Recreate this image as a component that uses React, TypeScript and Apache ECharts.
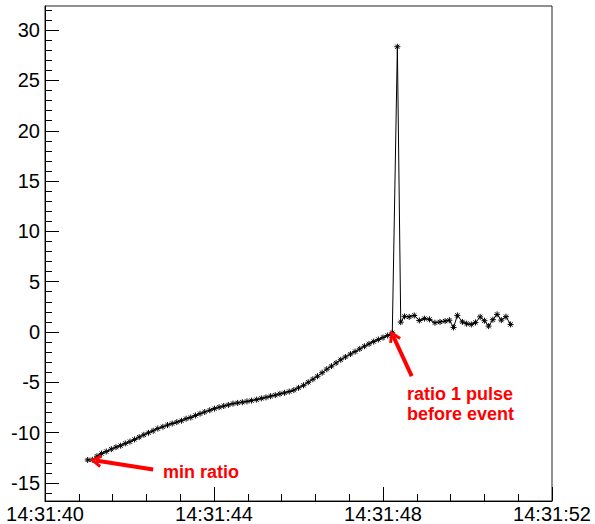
import React, { useEffect, useRef } from 'react';
import * as echarts from 'echarts';

// seconds after 14:31:40
const timeSec = [
  1.01, 1.12, 1.23, 1.34, 1.45, 1.57, 1.68, 1.79, 1.90, 2.01,
  2.12, 2.23, 2.34, 2.45, 2.56, 2.67, 2.79, 2.90, 3.01, 3.12,
  3.23, 3.34, 3.45, 3.56, 3.67, 3.78, 3.90, 4.01, 4.12, 4.23,
  4.34, 4.45, 4.56, 4.67, 4.78, 4.89, 5.01, 5.12, 5.23, 5.34,
  5.45, 5.56, 5.67, 5.78, 5.89, 6.00, 6.12, 6.23, 6.34, 6.45,
  6.56, 6.67, 6.78, 6.89, 7.00, 7.11, 7.23, 7.34, 7.45, 7.56,
  7.67, 7.78, 7.89, 8.00, 8.11, 8.22,
  8.34,
  8.42, 8.51, 8.62, 8.74, 8.86, 8.98, 9.10, 9.23, 9.35, 9.47,
  9.57, 9.67, 9.76, 9.88, 9.98, 10.09, 10.19, 10.30, 10.40, 10.50,
  10.60, 10.70, 10.80, 10.91, 11.02,
];

const ratio = [
  -12.72, -12.70, -12.35, -12.08, -11.88, -11.65, -11.45, -11.30, -11.08, -10.90,
  -10.68, -10.45, -10.22, -10.02, -9.82, -9.60, -9.42, -9.25, -9.10, -8.96,
  -8.82, -8.62, -8.50, -8.30, -8.12, -7.95, -7.78, -7.62, -7.48, -7.36,
  -7.25, -7.12, -7.05, -6.98, -6.90, -6.82, -6.72, -6.60, -6.50, -6.38,
  -6.28, -6.15, -6.05, -5.92, -5.78, -5.55, -5.30, -5.00, -4.70, -4.40,
  -4.05, -3.70, -3.40, -3.08, -2.76, -2.48, -2.20, -1.95, -1.68, -1.42,
  -1.18, -0.95, -0.75, -0.55, -0.35, -0.08,
  28.35,
  0.98, 1.55, 1.50, 1.64, 1.14, 1.33, 1.25, 0.92, 1.00, 1.08,
  1.17, 0.45, 1.65, 1.00, 0.82, 0.75, 0.95, 1.50, 1.12, 0.58,
  1.22, 1.75, 1.18, 1.52, 0.75,
];

const xTickValues = [0, 4, 8, 12];
const xTickLabels = ['14:31:40', '14:31:44', '14:31:48', '14:31:52'];
const yMajorTicks = [-15, -10, -5, 0, 5, 10, 15, 20, 25, 30];
const yMinorTicks = [
  -16, -15, -14, -13, -12, -11, -10, -9, -8, -7, -6, -5, -4, -3, -2, -1, 0,
  1, 2, 3, 4, 5, 6, 7, 8, 9, 10, 11, 12, 13, 14, 15, 16, 17, 18, 19, 20,
  21, 22, 23, 24, 25, 26, 27, 28, 29, 30, 31, 32,
];
const Y_MIN = -16.8;
const Y_MAX = 32.4;

// annotation arrows: [tail, tip] in data coordinates
const arrowMin = [[2.56, -13.66], [1.2, -12.78]];
const arrowPulse = [[8.68, -4.38], [8.24, -0.4]];

const FONT = '"Liberation Sans", Arial, Helvetica, sans-serif';
const ASTERISK =
  'path://M0,5L10,5M5,0L5,10M1.5,1.5L8.5,8.5M8.5,1.5L1.5,8.5';
const CHEVRON = 'path://M6,0L12,10L9.6,11.4L6,5L2.4,11.4L0,10Z';

export default function App() {
  const ref = useRef<HTMLDivElement>(null);
  useEffect(() => {
    document.body.style.margin = '0';
    const chart = echarts.init(ref.current!, null, { renderer: 'svg' });
    const data = timeSec.map((t, i) => [t, ratio[i]]);
    chart.setOption({
      animation: false,
      backgroundColor: '#fff',
      grid: {
        left: 45,
        right: 43,
        top: 6,
        bottom: 23,
        show: true,
        borderColor: '#222',
        borderWidth: 1,
        outerBoundsMode: 'none',
      },
      xAxis: {
        type: 'value',
        min: 0,
        max: 12,
        interval: 4,
        axisLine: { show: true, onZero: false, lineStyle: { color: '#000', width: 1 } },
        axisTick: { show: true, inside: true, length: 14, lineStyle: { color: '#000' } },
        minorTick: { show: true, splitNumber: 5, length: 7, lineStyle: { color: '#000' } },
        splitLine: { show: false },
        axisLabel: {
          color: '#000',
          fontSize: 20,
          fontFamily: FONT,
          margin: 3,
          showMinLabel: true,
          showMaxLabel: true,
          formatter: (v: number) => {
            const idx = xTickValues.indexOf(Math.round(v));
            return idx >= 0 ? xTickLabels[idx] : '';
          },
        },
      },
      yAxis: [
        {
          type: 'value',
          min: Y_MIN,
          max: Y_MAX,
          axisLine: { show: true, onZero: false, lineStyle: { color: '#000', width: 1 } },
          axisTick: {
            show: true,
            inside: true,
            length: 14,
            customValues: yMajorTicks,
            lineStyle: { color: '#000' },
          },
          splitLine: { show: false },
          axisLabel: {
            color: '#000',
            fontSize: 20,
            fontFamily: FONT,
            margin: 5,
            customValues: yMajorTicks,
          },
        },
        {
          type: 'value',
          min: Y_MIN,
          max: Y_MAX,
          position: 'left',
          axisLine: { show: false, onZero: false },
          axisTick: {
            show: true,
            inside: true,
            length: 7,
            customValues: yMinorTicks,
            lineStyle: { color: '#000' },
          },
          splitLine: { show: false },
          axisLabel: { show: false },
        },
      ],
      series: [
        {
          type: 'line',
          data,
          yAxisIndex: 0,
          symbol: ASTERISK,
          symbolSize: 6,
          lineStyle: { color: '#000', width: 1 },
          itemStyle: { color: 'transparent', borderColor: '#000', borderWidth: 1 },
          silent: true,
          markLine: {
            silent: true,
            animation: false,
            symbol: ['none', CHEVRON],
            symbolSize: [13, 12],
            lineStyle: { color: '#ff0000', width: 4, type: 'solid' },
            itemStyle: { color: '#ff0000' },
            label: { show: false },
            emphasis: { disabled: true },
            data: [
              [{ coord: arrowMin[0] }, { coord: arrowMin[1] }],
              [{ coord: arrowPulse[0] }, { coord: arrowPulse[1] }],
            ],
          },
        },
      ],
      graphic: [
        {
          type: 'text',
          left: 163,
          top: 463,
          style: {
            text: 'min ratio',
            fill: '#ff0000',
            font: 'bold 18px ' + FONT,
          },
        },
        {
          type: 'text',
          left: 407,
          top: 385,
          style: {
            text: 'ratio 1 pulse',
            fill: '#ff0000',
            font: 'bold 18px ' + FONT,
          },
        },
        {
          type: 'text',
          left: 407,
          top: 405,
          style: {
            text: 'before event',
            fill: '#ff0000',
            font: 'bold 18px ' + FONT,
          },
        },
      ],
    });
    return () => chart.dispose();
  }, []);
  return <div ref={ref} style={{ width: 595, height: 524 }} />;
}
